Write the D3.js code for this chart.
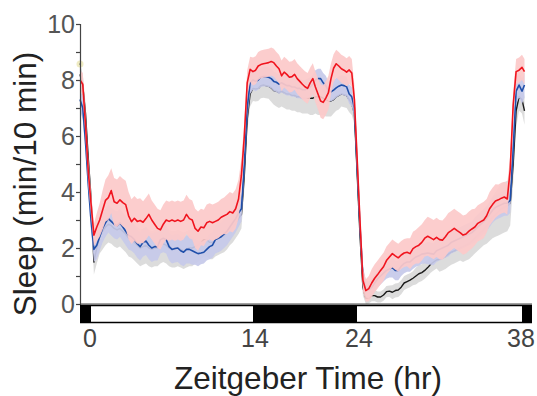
<!DOCTYPE html>
<html><head><meta charset="utf-8">
<script src="https://cdn.jsdelivr.net/npm/d3@7"></script>
<style>html,body{margin:0;padding:0;background:#fff;}svg{display:block;}</style>
</head><body>
<svg id="chart" width="537" height="396"></svg>
<script>
// ---- data (Zeitgeber time in hours, sleep in min / 10 min) ----
const hours = [
-1,-0.75,-0.5,-0.25, 0,0.25,0.5,0.75, 1,1.25,1.5,1.75, 2,2.25,2.5,2.75,
3,3.25,3.5,3.75, 4,4.25,4.5,4.75, 5,5.25,5.5,5.75, 6,6.25,6.5,6.75,
7,7.25,7.5,7.75, 8,8.25,8.5,8.75, 9,9.25,9.5,9.75, 10,10.25,10.5,10.75,
11,11.25,11.5,11.75, 12,12.25,12.5,12.75, 13,13.25,13.5,13.75, 14,14.25,14.5,14.75,
15,15.25,15.5,15.75, 16,16.25,16.5,16.75, 17,17.25,17.5,17.75, 18,18.25,18.5,18.75,
19,19.25,19.5,19.75, 20,20.25,20.5,20.75, 21,21.25,21.5,21.75, 22,22.25,22.5,22.75,
23,23.25,23.5,23.75, 24,24.25,24.5,24.75, 25,25.25,25.5,25.75, 26,26.25,26.5,26.75,
27,27.25,27.5,27.75, 28,28.25,28.5,28.75, 29,29.25,29.5,29.75, 30,30.25,30.5,30.75,
31,31.25,31.5,31.75, 32,32.25,32.5,32.75, 33,33.25,33.5,33.75, 34,34.25,34.5,34.75,
35,35.25,35.5,35.75, 36,36.25,36.5,36.75, 37,37.25,37.5,37.75, 38,38.25];

const redMean = [
8.0,7.85,6.4,4.75, 3.6,2.46,2.75,3.0, 3.35,3.7,3.8,4.05, 3.65,3.6,3.72,3.62,
3.55,3.15,2.94,3.06, 2.95,2.98,2.92,3.05, 3.2,3.0,2.85,2.7, 2.65,2.85,3.0,2.95,
3.0,2.95,3.0,2.95, 3.0,3.2,3.05,3.0, 2.7,2.6,2.75,2.72, 2.9,2.95,2.9,2.95,
3.0,3.1,3.15,3.2, 3.3,3.25,3.4,3.75, 4.6,6.0,7.9,8.38, 8.3,8.35,8.5,8.55,
8.58,8.6,8.62,8.66, 8.62,8.5,8.4,8.15, 8.28,8.2,8.1,8.12, 8.2,8.05,7.95,7.85,
7.76,7.7,7.9,8.05, 7.75,7.5,7.25,7.2, 7.35,7.55,8.05,8.42, 8.58,8.5,8.4,8.35,
8.28,8.36,8.25,7.3, 5.3,3.0,0.85,0.48, 0.55,0.75,0.92,1.05, 1.2,1.33,1.55,1.68,
1.8,1.72,1.65,1.75, 1.82,1.85,1.8,1.98, 2.05,2.1,2.2,2.35, 2.42,2.36,2.3,2.38,
2.3,2.28,2.4,2.55, 2.62,2.7,2.62,2.55, 2.46,2.5,2.6,2.68, 2.75,2.88,2.94,3.0,
3.15,3.4,3.55,3.68, 3.72,3.78,3.82,3.75, 4.8,7.1,8.3,8.35, 8.45,8.3];
const redSem = [
0.35,0.4,0.5,0.5, 0.45,0.4,0.5,0.6, 0.7,0.75,0.8,0.8, 0.85,0.85,0.85,0.85,
0.85,0.85,0.8,0.8, 0.8,0.8,0.75,0.75, 0.75,0.7,0.7,0.7, 0.7,0.7,0.7,0.7,
0.7,0.7,0.7,0.7, 0.7,0.7,0.7,0.7, 0.7,0.7,0.65,0.65, 0.65,0.65,0.65,0.65,
0.65,0.65,0.65,0.7, 0.7,0.7,0.7,0.7, 0.6,0.5,0.45,0.45, 0.5,0.5,0.5,0.5,
0.5,0.5,0.5,0.5, 0.5,0.5,0.5,0.55, 0.55,0.55,0.55,0.55, 0.55,0.55,0.55,0.55,
0.55,0.55,0.55,0.55, 0.55,0.55,0.6,0.6, 0.6,0.6,0.55,0.5, 0.5,0.5,0.5,0.5,
0.5,0.5,0.5,0.5, 0.5,0.5,0.4,0.4, 0.45,0.5,0.5,0.5, 0.5,0.5,0.5,0.5,
0.5,0.5,0.5,0.5, 0.5,0.5,0.55,0.6, 0.6,0.65,0.65,0.65, 0.7,0.7,0.7,0.7,
0.7,0.7,0.7,0.7, 0.7,0.7,0.7,0.7, 0.7,0.7,0.7,0.7, 0.65,0.65,0.65,0.65,
0.6,0.6,0.6,0.6, 0.55,0.55,0.55,0.55, 0.5,0.45,0.45,0.45, 0.45,0.45];

const blueMean = [
7.3,7.0,5.8,4.3, 3.0,1.95,2.1,2.4, 2.7,2.9,3.05,2.95, 2.85,2.8,2.9,2.75,
2.6,2.45,2.4,2.3, 2.15,2.05,2.2,2.25, 2.1,2.0,2.05,2.05, 2.3,2.35,2.3,2.05,
1.95,1.98,2.0,1.9, 1.85,1.95,1.95,1.9, 1.85,1.8,1.82,1.85, 1.95,2.05,2.1,2.3,
2.35,2.4,2.5,2.6, 2.75,2.9,3.05,3.25, 3.4,5.0,7.0,7.9, 8.0,7.95,8.0,8.1,
8.12,8.12,8.1,8.05, 7.95,7.92,7.85,7.9, 7.85,7.8,7.8,7.75, 7.75,7.7,7.7,7.65,
7.65,7.7,7.75,7.85, 8.0,8.05,8.05,7.9, 7.8,7.6,7.58,7.64, 7.72,7.78,7.82,7.8,
7.76,7.5,7.4,7.0, 5.0,2.8,1.0,0.55, 0.5,0.6,0.75,0.9, 1.0,1.1,1.2,1.25,
1.3,1.2,1.2,1.35, 1.45,1.5,1.5,1.6, 1.68,1.72,1.78,1.8, 1.82,1.8,1.78,1.9,
1.95,2.0,2.05,2.1, 2.2,2.25,2.3,2.35, 2.4,2.45,2.5,2.55, 2.65,2.75,2.85,2.95,
3.05,3.2,3.35,3.45, 3.5,3.55,3.6,3.6, 3.7,5.5,7.6,7.82, 7.6,7.82];
const blueSem = [
0.4,0.4,0.4,0.4, 0.4,0.45,0.5,0.5, 0.5,0.5,0.5,0.5, 0.5,0.5,0.5,0.5,
0.5,0.5,0.5,0.5, 0.5,0.5,0.5,0.5, 0.5,0.5,0.5,0.5, 0.5,0.5,0.5,0.5,
0.5,0.5,0.5,0.5, 0.5,0.5,0.5,0.5, 0.45,0.45,0.4,0.4, 0.4,0.45,0.45,0.5,
0.5,0.5,0.5,0.5, 0.5,0.5,0.5,0.5, 0.45,0.45,0.45,0.4, 0.35,0.35,0.35,0.35,
0.35,0.35,0.35,0.35, 0.35,0.35,0.35,0.35, 0.35,0.35,0.35,0.35, 0.35,0.35,0.35,0.35,
0.35,0.35,0.35,0.35, 0.35,0.35,0.35,0.35, 0.35,0.35,0.35,0.35, 0.35,0.35,0.35,0.35,
0.35,0.35,0.35,0.35, 0.4,0.4,0.35,0.3, 0.3,0.3,0.3,0.3, 0.3,0.3,0.3,0.3,
0.35,0.35,0.35,0.35, 0.35,0.35,0.35,0.35, 0.35,0.35,0.35,0.35, 0.4,0.4,0.4,0.4,
0.4,0.4,0.4,0.4, 0.4,0.4,0.4,0.4, 0.4,0.4,0.4,0.4, 0.45,0.45,0.45,0.45,
0.45,0.45,0.45,0.45, 0.45,0.45,0.45,0.45, 0.45,0.45,0.45,0.45, 0.45,0.45];

const blackMean = [
8.2,7.8,6.8,5.2, 3.8,1.5,2.0,2.4, 2.6,2.75,2.85,2.8, 2.7,2.65,2.7,2.6,
2.5,2.35,2.3,2.2, 2.1,2.0,2.05,2.1, 2.0,1.95,2.0,2.0, 2.1,2.15,2.1,2.0,
1.95,1.95,2.0,1.95, 1.9,1.95,2.0,2.0, 2.05,2.1,2.2,2.3, 2.3,2.2,2.2,2.3,
2.35,2.4,2.45,2.55, 2.65,2.75,2.9,3.05, 3.2,4.6,6.6,7.5, 7.7,7.68,7.7,7.8,
7.82,7.8,7.78,7.72, 7.62,7.6,7.55,7.6, 7.55,7.5,7.5,7.45, 7.45,7.4,7.4,7.35,
7.35,7.35,7.35,7.35, 7.4,7.4,7.4,7.35, 7.3,7.25,7.25,7.3, 7.4,7.45,7.5,7.48,
7.45,7.3,7.15,6.8, 4.8,2.5,0.6,0.2, 0.22,0.3,0.3,0.25, 0.25,0.32,0.44,0.46,
0.42,0.48,0.5,0.6, 0.75,0.8,0.85,0.92, 1.0,1.08,1.12,1.2, 1.3,1.42,1.5,1.57,
1.6,1.65,1.7,1.78, 1.85,1.9,1.95,2.0, 2.05,2.1,2.15,2.25, 2.35,2.45,2.55,2.65,
2.8,2.95,3.1,3.2, 3.3,3.4,3.45,3.5, 3.6,5.0,6.9,7.4, 7.3,6.9];
const blackSem = [
0.4,0.4,0.4,0.4, 0.4,0.45,0.55,0.6, 0.65,0.65,0.65,0.65, 0.65,0.65,0.65,0.65,
0.65,0.65,0.65,0.65, 0.65,0.65,0.65,0.65, 0.65,0.65,0.65,0.65, 0.65,0.65,0.65,0.65,
0.65,0.65,0.65,0.65, 0.65,0.65,0.65,0.65, 0.6,0.6,0.6,0.6, 0.6,0.6,0.6,0.6,
0.6,0.6,0.6,0.6, 0.55,0.55,0.55,0.55, 0.5,0.5,0.45,0.45, 0.45,0.45,0.45,0.45,
0.45,0.45,0.45,0.5, 0.5,0.55,0.55,0.55, 0.55,0.55,0.55,0.55, 0.55,0.55,0.55,0.55,
0.55,0.55,0.6,0.6, 0.6,0.65,0.65,0.6, 0.6,0.55,0.55,0.5, 0.5,0.5,0.45,0.45,
0.45,0.45,0.4,0.4, 0.4,0.4,0.3,0.2, 0.2,0.2,0.2,0.2, 0.2,0.2,0.2,0.2,
0.25,0.25,0.25,0.25, 0.25,0.25,0.25,0.25, 0.3,0.3,0.3,0.3, 0.3,0.3,0.3,0.3,
0.45,0.45,0.45,0.45, 0.45,0.45,0.45,0.45, 0.55,0.55,0.55,0.55, 0.55,0.55,0.55,0.55,
0.65,0.7,0.75,0.8, 0.85,0.9,0.9,0.9, 0.8,0.7,0.6,0.5, 0.5,0.5];

const xTickValues = [0, 14, 24, 38];
const yTickValues = [0,1,2,3,4,5,6,7,8,9,10];
const yLabelValues = [0,2,4,6,8,10];
const lightPhases = [ {start:-1, end:0, dark:true}, {start:0, end:14, dark:false},
                      {start:14, end:24, dark:true}, {start:24, end:38, dark:false},
                      {start:38, end:39, dark:true} ];
const marker = [{t:-1, v:8.57}];

// ---- drawing ----
const svg = d3.select("#chart");
const x = d3.scaleLinear().domain([-1, 0, 14, 24, 38, 39]).range([80, 91, 253, 357, 522, 532]);
const y = d3.scaleLinear().domain([0, 10]).range([304, 24]);

function series(mean, sem){ return hours.map((t,i)=>({t, v:mean[i], s:sem[i]})); }
const groups = [
  {d: series(blackMean, blackSem), band:"#d9d9d9", line:"#1a1a1a", w:1.4},
  {d: series(blueMean, blueSem), band:"#c6c9ea", line:"#1f4faa", w:1.6},
  {d: series(redMean, redSem), band:"#fcc9c9", line:"#f0141e", w:1.6}
];
const area = d3.area().x(d=>x(d.t)).y0(d=>y(Math.max(0, d.v-d.s))).y1(d=>y(d.v+d.s));
const line = d3.line().x(d=>x(d.t)).y(d=>y(d.v));
groups.forEach(g=>{
  svg.append("path").datum(g.d).attr("d", area).attr("fill", g.band).attr("fill-opacity", 0.93);
  svg.append("path").datum(g.d).attr("d", line).attr("fill","none")
     .attr("stroke", g.line).attr("stroke-width", g.w).attr("stroke-linejoin","round");
});

svg.selectAll("circle.mk").data(marker).enter().append("circle")
  .attr("cx", d=>x(d.t)).attr("cy", d=>y(d.v)).attr("r", 3.5).attr("fill", "#efebc2");
svg.selectAll("circle.mk2").data(marker).enter().append("circle")
  .attr("cx", d=>x(d.t)).attr("cy", d=>y(d.v)).attr("r", 0.9).attr("fill", "#8a8a7a");

// y axis
const yAxis = d3.axisLeft(y).tickValues(yTickValues).tickSize(4).tickPadding(1)
  .tickFormat(d => yLabelValues.includes(d) ? d : "");
const gy = svg.append("g").attr("transform", "translate(80,0)").call(yAxis);
gy.select(".domain").attr("stroke", "#444").attr("stroke-width", 1.2);
gy.selectAll(".tick line").attr("stroke", "#444").attr("stroke-width", 1.2);
gy.selectAll(".tick text").attr("font-family", "Liberation Sans, Arial, sans-serif")
  .attr("font-size", 25).attr("fill", "#555");

// x baseline
svg.append("line").attr("x1", x(-1)).attr("x2", x(39)).attr("y1", y(0)).attr("y2", y(0))
  .attr("stroke", "#444").attr("stroke-width", 1);

// light/dark bar
svg.selectAll("rect.phase").data(lightPhases).enter().append("rect")
  .attr("x", d=>x(d.start)).attr("width", d=>x(d.end)-x(d.start))
  .attr("y", 305.5).attr("height", 17)
  .attr("fill", d=>d.dark ? "#000" : "#fff");
svg.append("rect").attr("x", x(-1)+0.75).attr("y", 305.5).attr("width", x(39)-x(-1)-1.5).attr("height", 17)
  .attr("fill","none").attr("stroke","#000").attr("stroke-width",1.5);

// x tick labels
const xAxis = d3.axisBottom(x).tickValues(xTickValues).tickSize(0).tickPadding(0).tickFormat(d3.format("d"));
const gx = svg.append("g").attr("transform", "translate(0,323)").call(xAxis);
gx.select(".domain").remove();
gx.selectAll(".tick text").attr("font-family", "Liberation Sans, Arial, sans-serif")
  .attr("font-size", 25).attr("fill", "#444").attr("dy", "0.95em");
gx.selectAll(".tick").attr("transform", d => `translate(${x(d) - (d===0 ? 1 : (d===14 ? -2 : (d===24 ? -2 : 1)))},0)`);

// axis titles
svg.append("text").attr("x", 308).attr("y", 389).attr("text-anchor", "middle")
  .attr("font-family", "Liberation Sans, Arial, sans-serif").attr("font-size", 31.5).attr("fill", "#222")
  .text("Zeitgeber Time (hr)");
svg.append("text").attr("transform", "translate(36,184) rotate(-90)").attr("text-anchor", "middle")
  .attr("font-family", "Liberation Sans, Arial, sans-serif").attr("font-size", 31.5).attr("fill", "#222")
  .text("Sleep (min/10 min)");
</script>
</body></html>
